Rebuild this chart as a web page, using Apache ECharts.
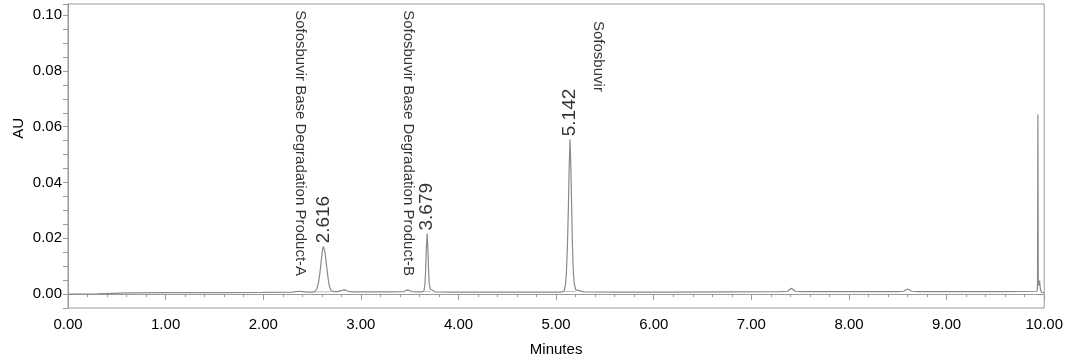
<!DOCTYPE html>
<html>
<head>
<meta charset="utf-8">
<script src="https://cdn.jsdelivr.net/npm/echarts@6/dist/echarts.min.js"></script>
<style>
html,body{margin:0;padding:0;background:#fff;}
#chart{width:1066px;height:362px;}
</style>
</head>
<body>
<div id="chart"></div>
<script>
// Retention time (minutes) and detector response (AU)
const time = [0.00,0.30,0.60,1.00,1.50,2.00,2.30,2.36,2.40,2.45,2.50,2.53,2.55,2.565,2.58,2.59,2.60,2.608,2.616,2.624,2.632,2.64,2.65,2.66,2.67,2.68,2.695,2.72,2.76,2.80,2.83,2.86,2.90,3.10,3.30,3.44,3.48,3.52,3.58,3.62,3.645,3.655,3.663,3.670,3.679,3.686,3.693,3.700,3.710,3.725,3.76,3.90,4.30,4.70,5.00,5.05,5.08,5.095,5.105,5.115,5.125,5.133,5.142,5.150,5.158,5.166,5.175,5.185,5.20,5.22,5.28,5.60,6.20,6.80,7.30,7.37,7.41,7.45,7.52,8.00,8.50,8.56,8.60,8.64,8.70,9.20,9.60,9.925,9.931,9.935,9.939,9.945,9.952,9.962,9.975,10.00];
const absorbance = [0.0000,0.0001,0.0004,0.0005,0.0005,0.0006,0.0007,0.0010,0.0009,0.0007,0.0007,0.0009,0.0020,0.0040,0.0075,0.0105,0.0138,0.0160,0.0171,0.0166,0.0150,0.0128,0.0098,0.0068,0.0043,0.0025,0.0013,0.0009,0.0009,0.0012,0.0016,0.0011,0.0008,0.0008,0.0008,0.0009,0.0015,0.0009,0.0008,0.0008,0.0010,0.0030,0.0080,0.0160,0.0217,0.0170,0.0090,0.0040,0.0018,0.0011,0.0008,0.0007,0.0007,0.0007,0.0007,0.0007,0.0010,0.0030,0.0075,0.0160,0.0300,0.0440,0.0555,0.0470,0.0330,0.0190,0.0090,0.0040,0.0016,0.0010,0.0008,0.0007,0.0007,0.0008,0.0009,0.0010,0.0021,0.0010,0.0009,0.0009,0.0009,0.0010,0.0018,0.0010,0.0009,0.0009,0.0009,0.0010,0.0020,0.0644,0.0030,0.0030,0.0048,0.0015,0.0006,0.0005];

// Integration baselines drawn under the integrated peaks
const baseStart = [2.54, 3.650, 5.085];
const baseEnd = [2.70, 3.715, 5.205];
const baseLevel = [0.0008, 0.0009, 0.0009];

// Peak retention-time annotations
const peakTimes = [2.616, 3.679, 5.142];
const peakHeights = [0.0171, 0.0217, 0.0555];
const peakLabels = ['2.616', '3.679', '5.142'];

// Compound name annotations
const nameTimes = [2.38, 3.48, 5.43];
const nameTops = [0.1018, 0.1018, 0.0979];
const nameLabels = ['Sofosbuvir Base Degradation Product-A', 'Sofosbuvir Base Degradation Product-B', 'Sofosbuvir'];

// Axis tick labels
const xTickLabels = ['0.00','1.00','2.00','3.00','4.00','5.00','6.00','7.00','8.00','9.00','10.00'];
const yTickLabels = ['0.00','0.02','0.04','0.06','0.08','0.10'];

const lineData = time.map((t, i) => [t, absorbance[i]]);
const baseData = [];
baseStart.forEach((s, i) => { baseData.push([s, baseLevel[i]], [baseEnd[i], baseLevel[i]], [null, null]); });
const peakData = peakTimes.map((t, i) => ({ value: [t, peakHeights[i]], label: { formatter: peakLabels[i] } }));
const nameData = nameTimes.map((t, i) => ({ value: [t, nameTops[i]], label: { formatter: nameLabels[i] } }));

const FONT = 'Arial, "Liberation Sans", sans-serif';
const GRAY = '#9a9a9a';

const chart = echarts.init(document.getElementById('chart'), null, { renderer: 'canvas' });
chart.setOption({
  animation: false,
  backgroundColor: '#ffffff',
  grid: { left: 68, right: 20, top: 4, bottom: 51, show: true, borderColor: GRAY, borderWidth: 1 },
  xAxis: {
    type: 'value', min: 0, max: 10, interval: 1,
    name: 'Minutes', nameLocation: 'middle', nameGap: 34,
    nameTextStyle: { fontFamily: FONT, fontSize: 15, color: '#000' },
    axisLine: { show: true, lineStyle: { color: GRAY } },
    axisTick: { show: true, length: 6, lineStyle: { color: GRAY } },
    minorTick: { show: true, splitNumber: 5, length: 3, lineStyle: { color: GRAY } },
    splitLine: { show: false },
    axisLabel: { margin: 9, fontFamily: FONT, fontSize: 15, color: '#000',
      formatter: v => { const i = Math.round(v); return Math.abs(v - i) < 1e-6 ? xTickLabels[i] : ''; } }
  },
  yAxis: {
    type: 'value', min: -0.005, max: 0.104, interval: 0.005,
    axisLine: { show: true, lineStyle: { color: GRAY } },
    axisTick: { show: true, length: 5, lineStyle: { color: GRAY } },
    splitLine: { show: false },
    axisLabel: { margin: 6, fontFamily: FONT, fontSize: 15, color: '#000',
      formatter: v => { const k = v * 50; const r = Math.round(k); return (Math.abs(k - r) < 1e-6 && r >= 0 && r < yTickLabels.length) ? yTickLabels[r] : ''; } }
  },
  graphic: [{
    type: 'text', left: 11, top: 118, rotation: Math.PI / 2,
    style: { text: 'AU', fontFamily: FONT, fontSize: 15, fill: '#000' }
  }],
  series: [
    {
      type: 'line', data: baseData, showSymbol: false, connectNulls: false,
      lineStyle: { color: '#f2a8a8', width: 1 }, z: 1, silent: true
    },
    {
      type: 'line', data: lineData, showSymbol: false, smooth: false,
      lineStyle: { color: '#8a8a8a', width: 1.2 }, z: 2, silent: true
    },
    {
      type: 'scatter', data: peakData, symbolSize: 0, z: 3, silent: true,
      label: { show: true, position: 'top', distance: 3, rotate: 90, align: 'left', verticalAlign: 'middle',
        fontFamily: FONT, fontSize: 19, color: '#000' }
    },
    {
      type: 'scatter', data: nameData, symbolSize: 0, z: 3, silent: true,
      label: { show: true, position: 'inside', rotate: -90, align: 'left', verticalAlign: 'middle',
        fontFamily: FONT, fontSize: 15, color: '#000' }
    }
  ]
});
</script>
</body>
</html>
